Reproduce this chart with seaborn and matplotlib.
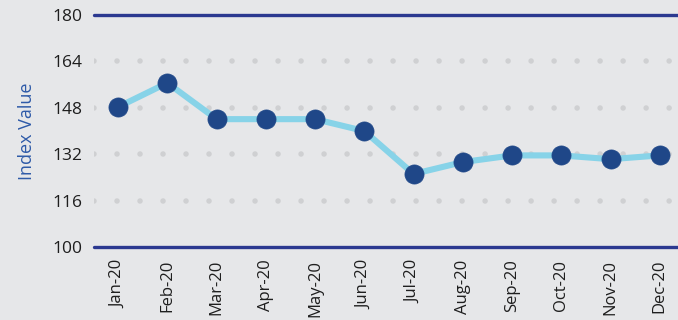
import matplotlib
matplotlib.use("Agg")
import matplotlib.pyplot as plt
import seaborn as sns
import pandas as pd

months = ["Jan-20", "Feb-20", "Mar-20", "Apr-20", "May-20", "Jun-20",
          "Jul-20", "Aug-20", "Sep-20", "Oct-20", "Nov-20", "Dec-20"]
index_values = [148.3, 156.6, 144.1, 144.1, 144.1, 140.0,
                125.2, 129.3, 131.6, 131.6, 130.3, 131.6]
y_ticks = [100, 116, 132, 148, 164, 180]

BG = "#E6E7E9"
NAVY = "#1F4788"
EDGE = "#2B3990"
LIGHT = "#87D3E8"

sns.set_theme(style="white")
plt.rcParams["font.family"] = ["Open Sans", "DejaVu Sans"]

df = pd.DataFrame({"month": months, "value": index_values})

fig = plt.figure(figsize=(6.78, 3.2), dpi=100, facecolor=BG)
ax = fig.add_axes([0.1386, 0.228, 0.8614, 0.725])
ax.set_facecolor(BG)

# dotted inner gridlines, solid outer bounds
for t in y_ticks[1:-1]:
    ax.axhline(t, color="#CFD0D2", lw=4.0, linestyle=(0, (0.001, 4.14)),
               dash_capstyle="round", zorder=1)
for t in (y_ticks[0], y_ticks[-1]):
    ax.axhline(t, color=EDGE, lw=2.4, zorder=2, clip_on=False)

sns.lineplot(data=df, x="month", y="value", ax=ax, color=LIGHT, lw=4.4,
             sort=False, zorder=3)
sns.scatterplot(data=df, x="month", y="value", ax=ax, color=NAVY, s=190,
                edgecolor=NAVY, linewidth=0.5, zorder=4)

ax.set_ylim(100, 180)
ax.set_xlim(-0.49, 11.37)
ax.set_yticks(y_ticks)
ax.set_yticklabels([str(t) for t in y_ticks], fontsize=12.5, color="#1E1E1E")
ax.tick_params(axis="y", length=0, pad=8)
ax.tick_params(axis="x", length=0, pad=9, rotation=90, labelsize=12,
               labelcolor="#1E1E1E")
ax.set_xlabel("")
ax.set_ylabel("Index Value", color="#2E5AA8", fontsize=13, labelpad=12)
for s in ax.spines.values():
    s.set_visible(False)

fig.savefig("out.png", dpi=100, facecolor=BG)
